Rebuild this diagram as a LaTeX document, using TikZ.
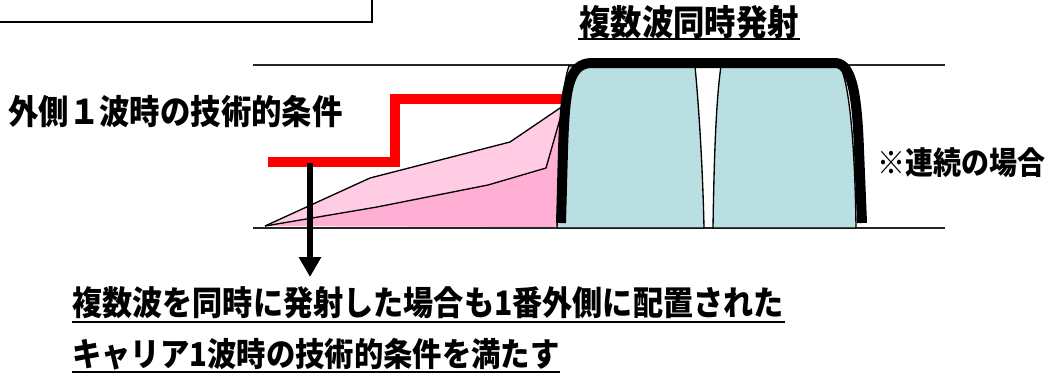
\documentclass[tikz,border=0pt]{standalone}
\usepackage{fontspec}
\setmainfont{Noto Sans CJK JP}[BoldFont={Noto Sans CJK JP Black}]
\usetikzlibrary{arrows.meta}
\definecolor{redline}{HTML}{FF0000}
\definecolor{pinkA}{HTML}{FFCCE4}
\definecolor{pinkB}{HTML}{FFAFD4}
\definecolor{teal}{HTML}{B9DFE2}
\tikzset{
  lbl/.style={inner sep=0pt, font=\bfseries, yscale=1.12},
  uline/.style={line width=2pt, black},
  hline/.style={line width=1.4pt, black!85},
  carrier/.style={fill=teal, draw=black, line width=1pt},
  envelope/.style={draw=black, line width=7.5pt, line join=round},
  mask/.style={draw=redline, line width=7.5pt},
  pinkout/.style={draw=black, line width=1pt, line join=round},
}
\begin{document}
\begin{tikzpicture}[x=0.75pt,y=-0.75pt]
\useasboundingbox (0,0) rectangle (1048,376);
% top-left box (cut off)
\draw[line width=1.5pt, black] (-5,-10) -- (-5,22) -- (372,22) -- (372,-10);
% horizontal lines
\draw[hline] (253,65) -- (945,65);
\draw[hline] (253,228) -- (945,228);
% pink regions
\fill[pinkA] (265,226) -- (370,178) -- (510,142) -- (563,106) -- (557,227) -- cycle;
\draw[pinkout] (265,226) -- (370,178) -- (510,142) -- (563,106);
\fill[pinkB] (265,226) -- (377,207) -- (488,185) -- (546,168) -- (562,112) -- (557,227) -- cycle;
\draw[pinkout] (265,226) -- (377,207) -- (488,185) -- (546,168) -- (562,112);
% carriers
\draw[carrier] (557,228) .. controls (560,130) and (562,85) .. (569,66) -- (695,66) .. controls (700,120) and (703,180) .. (704,228) -- cycle;
\draw[carrier] (713,228) .. controls (714,160) and (716,100) .. (721,66) -- (840,66) .. controls (850,85) and (855,150) .. (856,228) -- cycle;
% red mask
\draw[mask] (268,162) -- (395,162) -- (395,99) -- (565,99);
% envelope
\draw[envelope] (561,223) -- (563,150) .. controls (565,90) and (568,63) .. (592,63) -- (835,63) .. controls (852,63) and (857,95) .. (859,150) -- (862,223);
% labels
\node[lbl, font=\bfseries\fontsize{23.5}{28}\selectfont] (title) at (689,22) {複数波同時発射};
\draw[uline] (578,39) -- (800,39);
\node[lbl, anchor=west, font=\bfseries\fontsize{22.8}{28}\selectfont] (outer) at (8,112) {外側１波時の技術的条件};
\node[lbl, anchor=west, font=\bfseries\fontsize{21}{26}\selectfont] (cont) at (877,163) {※連続の場合};
\node[lbl, anchor=west, font=\bfseries\fontsize{22.6}{28}\selectfont] (line1) at (72,303) {複数波を同時に発射した場合も1番外側に配置された};
\draw[uline] (72,322) -- (785,322);
\node[lbl, anchor=west, font=\bfseries\fontsize{22}{28}\selectfont] (line2) at (72,354) {キャリア1波時の技術的条件を満たす};
\draw[uline] (72,372) -- (560,372);
% arrow
\coordinate (astart) at (310,163);
\coordinate (aend) at (310,277);
\draw[line width=5pt, -{Triangle[length=15pt,width=16pt]}] (astart) -- (aend);
\end{tikzpicture}
\end{document}
